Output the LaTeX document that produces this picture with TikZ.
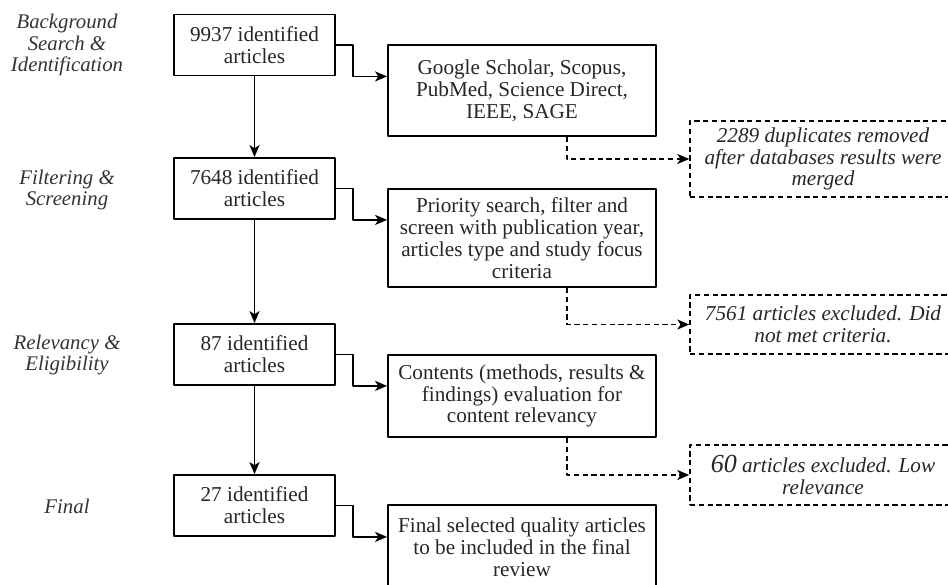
\documentclass[tikz,border=0pt]{standalone}
\usepackage{fontspec}
\setmainfont{Liberation Serif}
\usetikzlibrary{arrows.meta}
\tikzset{
	box/.style={draw, line width=.9pt, align=center, inner sep=0pt, text=black!85},
	dbox/.style={draw, dashed, dash pattern=on 2.6pt off 1.8pt, line width=.7pt, align=center, inner sep=0pt, font=\fontsize{10.6}{10.9}\selectfont\itshape, text=black!85},
	stage/.style={align=center, font=\fontsize{10.4}{10.8}\selectfont\itshape, text=black!80},
	link/.style={->, line width=.9pt},
	dlink/.style={->, dashed, dash pattern=on 2.6pt off 1.8pt, line width=.75pt}
}
\begin{document}
\begin{tikzpicture}[x=.5pt, y=-.5pt, font=\fontsize{10.6}{10.9}\selectfont, line join=round, >={Stealth[length=6pt,width=5pt,inset=1.6pt]}]
			\useasboundingbox (0,0) rectangle (948,584);
			\clip (0,0) rectangle (948,584);
			\node[stage] (s1) at (67,45) {Background\\Search \&\\Identification};
			\node[stage] (s2) at (67,190) {Filtering \&\\Screening};
			\node[stage] (s3) at (67,355) {Relevancy \&\\Eligibility};
			\node[stage] (s4) at (67,506) {Final};
			\node[box, minimum width=80.5pt, minimum height=30.5pt] (l1) at (254.5,45) {9937 identified\\articles};
			\node[box, minimum width=80.5pt, minimum height=30.5pt] (l2) at (254.5,188.5) {7648 identified\\articles};
			\node[box, minimum width=80.5pt, minimum height=30.5pt] (l3) at (254.5,354.5) {87 identified\\articles};
			\node[box, minimum width=80.5pt, minimum height=30.5pt] (l4) at (254.5,505.5) {27 identified\\articles};
			\node[box, minimum width=134pt, minimum height=45.5pt] (r1) at (522,90.5) {Google Scholar, Scopus,\\PubMed, Science Direct,\\IEEE, SAGE};
			\node[box, minimum width=134pt, minimum height=49pt] (r2) at (522,238) {Priority search, filter and\\screen with publication year,\\articles type and study focus\\criteria};
			\node[box, minimum width=134pt, minimum height=41pt] (r3) at (522,396) {Contents (methods, results \&\\findings) evaluation for\\content relevancy};
			\node[box, minimum width=134pt, minimum height=42.5pt] (r4) at (522,547.5) {Final selected quality articles\\to be included in the final\\review};
			\node[dbox, minimum width=133pt, minimum height=38pt] (d1) at (823,159) {2289 duplicates removed\\after databases results were\\merged};
			\node[dbox, minimum width=133pt, minimum height=29.5pt] (d2) at (823,324.5) {7561 articles excluded. Did\\not met criteria.};
			\node[dbox, minimum width=133pt, minimum height=30pt] (d3) at (823,475) {{\fontsize{13}{13}\selectfont 60} articles excluded. Low\\relevance};
			\foreach \a/\b in {l1/l2,l2/l3,l3/l4} \draw[link] (\a) -- (\b);
			\foreach \a/\b in {l1/r1,l2/r2,l3/r3,l4/r4} \draw[link] (\a.east) -- ++(17,0) |- (\b.west |- \a.south);
			\foreach \a/\b in {r1/d1,r2/d2,r3/d3} \draw[dlink] (\a.south east) ++(-90,0) |- (\b.west);
	\end{tikzpicture}
\end{document}
